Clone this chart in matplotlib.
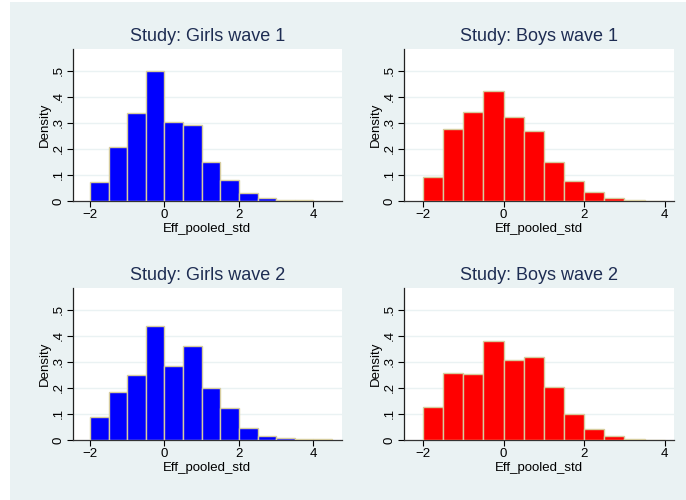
import matplotlib.pyplot as plt
from matplotlib.patches import Rectangle

# bin edges (width 0.5) and densities
girls_edges = [-2.0, -1.5, -1.0, -0.5, 0.0, 0.5, 1.0, 1.5, 2.0, 2.5, 3.0, 3.5, 4.0, 4.5]
boys_edges = [-2.0, -1.5, -1.0, -0.5, 0.0, 0.5, 1.0, 1.5, 2.0, 2.5, 3.0, 3.5, 4.0]

girls_w1 = [0.074, 0.206, 0.336, 0.498, 0.303, 0.292, 0.149, 0.079, 0.032, 0.012, 0.002, 0.002, 0.001]
boys_w1 = [0.092, 0.277, 0.341, 0.423, 0.323, 0.268, 0.151, 0.077, 0.033, 0.012, 0.002, 0.001]
girls_w2 = [0.089, 0.185, 0.250, 0.439, 0.283, 0.360, 0.200, 0.121, 0.046, 0.017, 0.008, 0.002, 0.002]
boys_w2 = [0.125, 0.258, 0.254, 0.378, 0.307, 0.319, 0.202, 0.101, 0.042, 0.014, 0.002, 0.001]

yticks = [0, 0.1, 0.2, 0.3, 0.4, 0.5]
ytick_labels = ['0', '.1', '.2', '.3', '.4', '.5']
xticks = [-2, 0, 2, 4]

BG = '#eaf2f3'
TITLE_COL = '#1e2d53'
EDGE = '#d6cc9e'

plt.rcParams['font.family'] = ['Liberation Sans', 'DejaVu Sans']

fig = plt.figure(figsize=(6.86, 5.0), dpi=100)
fig.patches.append(Rectangle((10 / 686, 0), 1, 498 / 500, transform=fig.transFigure,
                             facecolor=BG, edgecolor='none', zorder=-10))

panels = [
    ('Study: Girls wave 1', girls_edges, girls_w1, 'blue', [0.106, 0.598, 0.392, 0.3034], (-2.465, 4.76)),
    ('Study: Boys wave 1', boys_edges, boys_w1, 'red', [0.589, 0.598, 0.393, 0.3034], (-2.47, 4.22)),
    ('Study: Girls wave 2', girls_edges, girls_w2, 'blue', [0.106, 0.12, 0.392, 0.3034], (-2.465, 4.76)),
    ('Study: Boys wave 2', boys_edges, boys_w2, 'red', [0.589, 0.12, 0.393, 0.3034], (-2.47, 4.22)),
]

for title, edges, dens, col, pos, xlim in panels:
    ax = fig.add_axes(pos)
    ax.set_zorder(1)
    ax.set_facecolor('white')
    widths = [edges[i + 1] - edges[i] for i in range(len(dens))]
    ax.bar(edges[:-1], dens, width=widths, align='edge', color=col,
           edgecolor=EDGE, linewidth=1.0, zorder=3)
    for y in yticks[1:]:
        ax.axhline(y, color=BG, linewidth=1.0, zorder=1)
    ax.set_xlim(*xlim)
    ax.set_ylim(0, 0.582)
    ax.set_yticks(yticks)
    ax.set_yticklabels(ytick_labels, rotation=90, va='center')
    ax.set_xticks(xticks)
    ax.tick_params(labelsize=9.5, length=4, width=0.8, color='black', pad=2)
    for s in ['top', 'right']:
        ax.spines[s].set_visible(False)
    ax.spines['left'].set_color('#222222')
    ax.spines['bottom'].set_color('#333333')
    ax.spines['left'].set_linewidth(0.9)
    ax.spines['bottom'].set_linewidth(0.9)
    ax.set_xlabel('Eff_pooled_std', fontsize=9.5, labelpad=1)
    ax.set_ylabel('Density', fontsize=9.5, labelpad=1)
    ax.set_title(title, fontsize=13, color=TITLE_COL, pad=6)

fig.savefig('out.png', dpi=100, facecolor='white')
